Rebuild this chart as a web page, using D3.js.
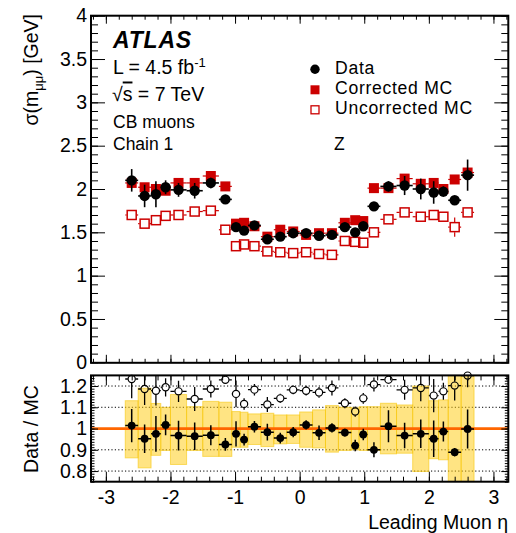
<!DOCTYPE html>
<html><head><meta charset="utf-8">
<script src="https://cdn.jsdelivr.net/npm/d3@7"></script>
<style>
body{margin:0;background:#fff}
svg{display:block}
text{font-family:"Liberation Sans",Arial,Helvetica,sans-serif;fill:#000}
</style>
</head><body>
<svg id="c" width="516" height="533"></svg>
<script>
// ---------------- data ----------------
const etaEdges = [-2.7,-2.5,-2.3,-2.15,-2.0,-1.75,-1.5,-1.25,-1.05,-0.92,-0.8,-0.6,-0.4,-0.2,0,
                  0.2,0.4,0.6,0.8,0.92,1.05,1.25,1.5,1.75,2.0,2.15,2.3,2.5,2.7];
const sigmaData      = [2.10,1.92,1.94,2.02,1.99,1.98,2.07,1.88,1.56,1.52,1.58,1.42,1.45,1.49,
                        1.49,1.46,1.47,1.56,1.50,1.57,1.80,2.03,2.04,2.00,1.96,1.97,1.87,2.16];
const sigmaDataErr   = [0.13,0.13,0.15,0.08,0.08,0.09,0.06,0.03,0.04,0.03,0.02,0.03,0.02,0.02,
                        0.02,0.03,0.02,0.02,0.03,0.03,0.05,0.06,0.11,0.12,0.13,0.06,0.03,0.18];
const sigmaCorrMC    = [2.07,2.02,2.00,1.98,2.07,2.07,2.15,2.03,1.60,1.61,1.57,1.45,1.53,1.51,
                        1.47,1.49,1.49,1.61,1.64,1.63,2.01,2.01,2.12,2.06,2.07,2.00,2.11,2.19];
const sigmaCorrMCErr = [0.03,0.03,0.03,0.02,0.04,0.04,0.04,0.02,0.02,0.02,0.02,0.02,0.02,0.02,
                        0.02,0.02,0.02,0.02,0.02,0.02,0.02,0.03,0.04,0.04,0.03,0.03,0.03,0.04];
const sigmaUncorrMC    = [1.70,1.60,1.64,1.69,1.70,1.74,1.75,1.53,1.34,1.36,1.34,1.28,1.27,1.26,
                          1.27,1.25,1.24,1.40,1.39,1.38,1.50,1.65,1.73,1.68,1.70,1.68,1.56,1.73];
const sigmaUncorrMCErr = [0.02,0.02,0.02,0.02,0.02,0.02,0.03,0.02,0.02,0.02,0.02,0.02,0.02,0.02,
                          0.02,0.02,0.02,0.02,0.02,0.02,0.02,0.02,0.02,0.02,0.02,0.02,0.11,0.03];
const ratioCorr      = [1.014,0.952,0.975,1.017,0.967,0.964,0.969,0.925,0.975,0.948,1.009,0.983,0.955,0.983,
                        1.017,0.980,1.003,0.981,0.920,0.972,0.900,1.011,0.967,0.975,0.952,0.986,0.889,0.998];
const ratioCorrErr   = [0.078,0.067,0.084,0.049,0.070,0.065,0.047,0.030,0.059,0.028,0.027,0.039,0.025,0.024,
                        0.022,0.034,0.022,0.018,0.027,0.027,0.035,0.075,0.060,0.067,0.086,0.047,0.020,0.092];
const ratioUncorr    = [1.233,1.186,1.178,1.194,1.175,1.139,1.186,1.229,1.163,1.116,1.183,1.113,1.142,1.182,
                        1.178,1.170,1.191,1.119,1.080,1.142,1.207,1.230,1.182,1.191,1.155,1.175,1.202,1.249];
const ratioUncorrErr = [0.090,0.075,0.070,0.043,0.050,0.056,0.040,0.017,0.063,0.027,0.027,0.035,0.022,0.021,
                        0.023,0.025,0.035,0.024,0.024,0.025,0.033,0.020,0.047,0.063,0.078,0.040,0.070,0.055];
const mcBandHi = [1.131,1.190,1.118,1.100,1.160,1.103,1.128,1.124,1.080,1.077,1.069,1.072,1.064,1.064,
                  1.078,1.088,1.108,1.100,1.097,1.103,1.103,1.119,1.111,1.200,1.131,1.135,1.300,1.300];
const mcBandLo = [0.862,0.815,0.874,0.897,0.831,0.897,0.869,0.869,0.912,0.912,0.925,0.915,0.928,0.930,
                  0.912,0.909,0.889,0.897,0.900,0.897,0.897,0.881,0.884,0.798,0.858,0.853,0.740,0.740];
const xTickValues = [-3,-2,-1,0,1,2,3];
const yTopTickValues = [0,0.5,1,1.5,2,2.5,3,3.5,4];
const yTopTickLabels = ["0","0.5","1","1.5","2","2.5","3","3.5","4"];
const yBotTickValues = [0.8,0.9,1.0,1.1,1.2];
const yBotTickLabels = ["0.8","0.9","1","1.1","1.2"];
const legendLabels = ["Data","Corrected MC","Uncorrected MC"];

// ---------------- layout ----------------
const FL = 91, FR = 508.3;
const TT = 15.7, TB = 362.8;
const BT = 375.4, BB = 481.7;
const RED = "#cc0000";
const FS = 19.5;

const svg = d3.select("#c");
const x = d3.scaleLinear().domain([-3.23, 3.23]).range([FL, FR]);
const yT = d3.scaleLinear().domain([0, 4]).range([362.3, 15.7]);
const yB = d3.scaleLinear().domain([0.75, 1.25]).range([481.7, 375.4]);

const bins = etaEdges.slice(0, -1).map((lo, i) => ({lo, hi: etaEdges[i+1], c: (lo + etaEdges[i+1]) / 2, i}));
const steps = (a, b, s) => { const r = []; for (let v = a; v <= b + 1e-9; v += s) r.push(+v.toFixed(5)); return r; };

const defs = svg.append("defs");
defs.append("clipPath").attr("id","clipB").append("rect").attr("x",FL).attr("y",BT).attr("width",FR-FL).attr("height",BB-BT);

function errBars(g, vals, errs, ys, color, width, gap) {
  bins.forEach(b => {
    const cx = x(b.c), cy = ys(vals[b.i]);
    const x0 = x(b.lo), x1 = x(b.hi);
    const yu = ys(vals[b.i] + errs[b.i]), yl = ys(vals[b.i] - errs[b.i]);
    const segs = [];
    if (gap > 0) {
      if (cx - gap > x0) segs.push([x0, cy, cx - gap, cy]);
      if (cx + gap < x1) segs.push([cx + gap, cy, x1, cy]);
      if (cy - gap > yu) segs.push([cx, yu, cx, cy - gap]);
      if (cy + gap < yl) segs.push([cx, cy + gap, cx, yl]);
    } else {
      segs.push([x0, cy, x1, cy]);
      segs.push([cx, yu, cx, yl]);
    }
    segs.forEach(s => g.append("line").attr("x1",s[0]).attr("y1",s[1]).attr("x2",s[2]).attr("y2",s[3])
      .attr("stroke",color).attr("stroke-width",width));
  });
}

function axisTicks(g, axisFn, scale, vals, size, tx, ty, labels, pad) {
  const a = axisFn(scale).tickValues(vals).tickSize(size).tickPadding(pad || 3);
  a.tickFormat(labels ? ((d, i) => labels[i]) : (() => ""));
  const ag = g.append("g").attr("transform", `translate(${tx},${ty})`).call(a);
  ag.select(".domain").remove();
  ag.selectAll("line").attr("stroke","#000").attr("stroke-width",1);
  ag.selectAll("text").attr("font-size", FS).attr("font-family","Liberation Sans, Arial, sans-serif").attr("fill","#000");
  return ag;
}

// ================= TOP PANEL =================
const topG = svg.append("g");
const yTopMinor = steps(0, 4, 0.1);
axisTicks(topG, d3.axisLeft, yT, yTopMinor, -7, FL, 0);
axisTicks(topG, d3.axisLeft, yT, yTopTickValues, -14, FL, 0, yTopTickLabels, 4);
axisTicks(topG, d3.axisRight, yT, yTopMinor, -7, FR, 0);
axisTicks(topG, d3.axisRight, yT, yTopTickValues, -14, FR, 0);
const xMinor = steps(-3.2, 3.2, 0.2);
axisTicks(topG, d3.axisBottom, x, xMinor, -4, 0, TB);
axisTicks(topG, d3.axisBottom, x, xTickValues, -8, 0, TB);
axisTicks(topG, d3.axisTop, x, xMinor, -4, 0, TT);
axisTicks(topG, d3.axisTop, x, xTickValues, -8, 0, TT);

const gU = topG.append("g");
errBars(gU, sigmaUncorrMC, sigmaUncorrMCErr, yT, RED, 1.2, 5);
gU.selectAll("rect").data(bins).join("rect")
  .attr("x", b => x(b.c) - 4.5).attr("y", b => yT(sigmaUncorrMC[b.i]) - 4.5)
  .attr("width", 9).attr("height", 9).attr("fill","none").attr("stroke",RED).attr("stroke-width",1.5);
const gC = topG.append("g");
errBars(gC, sigmaCorrMC, sigmaCorrMCErr, yT, RED, 1.2, 0);
gC.selectAll("rect").data(bins).join("rect")
  .attr("x", b => x(b.c) - 5).attr("y", b => yT(sigmaCorrMC[b.i]) - 5)
  .attr("width", 10).attr("height", 10).attr("fill",RED);
const gD = topG.append("g");
errBars(gD, sigmaData, sigmaDataErr, yT, "#000", 1.6, 0);
gD.selectAll("circle").data(bins).join("circle")
  .attr("cx", b => x(b.c)).attr("cy", b => yT(sigmaData[b.i])).attr("r", 5.2).attr("fill","#000");

topG.append("rect").attr("x",FL).attr("y",TT).attr("width",FR-FL).attr("height",TB-TT)
  .attr("fill","none").attr("stroke","#000").attr("stroke-width",2);

topG.append("text").attr("x",113).attr("y",48).attr("font-size",23).attr("letter-spacing",0.8)
  .attr("font-weight","bold").attr("font-style","italic").text("ATLAS");
const tL = topG.append("text").attr("x",113).attr("y",73.5).attr("font-size",FS);
tL.append("tspan").text("L = 4.5 fb");
tL.append("tspan").attr("dy",-7).attr("font-size",13).text("-1");
const tS = topG.append("text").attr("x",112).attr("y",100.5).attr("font-size",FS);
tS.append("tspan").text("\u221A");
tS.append("tspan").attr("text-decoration","overline").text("s");
tS.append("tspan").text(" = 7 TeV");
topG.append("text").attr("x",113).attr("y",127.5).attr("font-size",17.5).text("CB muons");
topG.append("text").attr("x",113).attr("y",150).attr("font-size",17.5).text("Chain 1");
topG.append("text").attr("x",334).attr("y",150).attr("font-size",17.5).text("Z");

const legY = [69.3, 89.8, 109.8];
const lg = topG.append("g");
lg.append("circle").attr("cx",315).attr("cy",legY[0]).attr("r",4.7).attr("fill","#000");
lg.append("rect").attr("x",310.5).attr("y",legY[1]-4.5).attr("width",9).attr("height",9).attr("fill",RED);
lg.append("rect").attr("x",311).attr("y",legY[2]-4).attr("width",8).attr("height",8).attr("fill","none").attr("stroke",RED).attr("stroke-width",1.3);
legendLabels.forEach((t, i) => lg.append("text").attr("x",335).attr("y",legY[i]+4.5)
  .attr("font-size",17.6).attr("letter-spacing",0.7).text(t));

const yt = svg.append("text").attr("transform","translate(38,14) rotate(-90)").attr("text-anchor","end").attr("font-size",FS);
yt.append("tspan").text("\u03C3(m");
yt.append("tspan").attr("dy",5).attr("font-size",13).text("\u03BC\u03BC");
yt.append("tspan").attr("dy",-5).text(") [GeV]");

// ================= BOTTOM PANEL =================
const bot = svg.append("g");
bot.selectAll("line.grid").data(yBotTickValues.filter(v => v !== 1)).join("line").attr("class","grid")
  .attr("x1",FL).attr("x2",FR).attr("y1",d => yB(d)).attr("y2",d => yB(d))
  .attr("stroke","#000").attr("stroke-width",1).attr("stroke-dasharray","1.2,2.2");
bot.append("g").attr("clip-path","url(#clipB)").selectAll("rect").data(bins).join("rect")
  .attr("x", b => x(b.lo)).attr("width", b => x(b.hi) - x(b.lo))
  .attr("y", b => yB(mcBandHi[b.i])).attr("height", b => yB(mcBandLo[b.i]) - yB(mcBandHi[b.i]))
  .attr("fill","#ffcc11").attr("fill-opacity",0.52).attr("stroke","#f5c400").attr("stroke-opacity",0.55).attr("stroke-width",1);
bot.append("line").attr("x1",FL).attr("x2",FR).attr("y1",yB(1)).attr("y2",yB(1)).attr("stroke","#ff6600").attr("stroke-width",2.8);

const gRU = bot.append("g");
errBars(gRU.append("g").attr("clip-path","url(#clipB)"), ratioUncorr, ratioUncorrErr, yB, "#000", 1.3, 3.8);
gRU.selectAll("circle").data(bins).join("circle")
  .attr("cx", b => x(b.c)).attr("cy", b => yB(ratioUncorr[b.i])).attr("r", 3.6)
  .attr("fill","none").attr("stroke","#000").attr("stroke-width",1.2);
const gRC = bot.append("g");
errBars(gRC.append("g").attr("clip-path","url(#clipB)"), ratioCorr, ratioCorrErr, yB, "#000", 1.5, 0);
gRC.selectAll("circle").data(bins).join("circle")
  .attr("cx", b => x(b.c)).attr("cy", b => yB(ratioCorr[b.i])).attr("r", 3.9).attr("fill","#000");

const yBotMinor = steps(0.75, 1.25, 0.0125);
axisTicks(bot, d3.axisLeft, yB, yBotMinor, -3.5, FL, 0);
axisTicks(bot, d3.axisLeft, yB, yBotTickValues, -7, FL, 0, yBotTickLabels, 4);
axisTicks(bot, d3.axisRight, yB, yBotMinor, -3.5, FR, 0);
axisTicks(bot, d3.axisRight, yB, yBotTickValues, -7, FR, 0);
axisTicks(bot, d3.axisBottom, x, xMinor, -5, 0, BB);
axisTicks(bot, d3.axisBottom, x, xTickValues, -10, 0, BB, xTickValues.map(String), 8.5);
axisTicks(bot, d3.axisTop, x, xMinor, -5, 0, BT);
axisTicks(bot, d3.axisTop, x, xTickValues, -10, 0, BT);

bot.append("rect").attr("x",FL).attr("y",BT).attr("width",FR-FL).attr("height",BB-BT)
  .attr("fill","none").attr("stroke","#000").attr("stroke-width",2);

svg.append("text").attr("transform","translate(38,429) rotate(-90)").attr("text-anchor","middle").attr("font-size",FS).text("Data / MC");
svg.append("text").attr("x",508).attr("y",529).attr("text-anchor","end").attr("font-size",FS).text("Leading Muon \u03B7");
</script>
</body></html>
